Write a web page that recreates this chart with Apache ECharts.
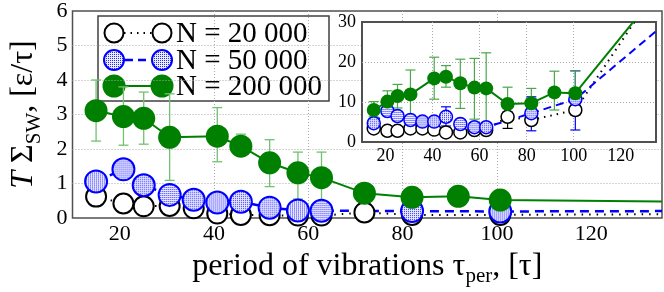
<!DOCTYPE html>
<html>
<head>
<meta charset="utf-8">
<script src="https://cdn.jsdelivr.net/npm/echarts@6/dist/echarts.min.js"></script>
<style>html,body{margin:0;padding:0;background:#fff}#c{width:664px;height:292px}</style>
</head>
<body>
<div id="c"></div>
<script>
// ---------- data ----------
const xTicks = [20, 40, 60, 80, 100, 120];
const yTicksMain = [0, 1, 2, 3, 4, 5, 6];
const yTicksInset = [0, 10, 20, 30];
const legendNames = ['N = 20 000', 'N = 50 000', 'N = 200 000'];

// N = 200 000 (green)
const greenX = [15, 20.8, 25.1, 30.6, 40.7, 45.7, 51.8, 57.8, 62.8, 71.9, 82, 91.8, 100.7];
const greenMain = [3.11, 2.94, 2.89, 2.34, 2.37, 2.08, 1.60, 1.31, 1.17, 0.72, 0.60, 0.63, 0.52];
const greenMainLo = [2.23, 2.11, 2.14, 1.09, 1.63, 1.80, 0.91, 0.55, 0.42, 0.64, 0.52, 0.55, 0.45];
const greenMainHi = [4.00, 3.80, 3.65, 3.60, 3.20, 2.43, 2.27, 1.91, 1.91, 0.80, 0.68, 0.71, 0.60];
const greenMainTail = [135, 0.48];
const greenInset = [8.0, 10.1, 11.5, 11.9, 15.9, 16.3, 14.7, 13.6, 13.4, 9.5, 9.7, 12.4, 12.2];
const greenInsetLo = [6.3, 7.5, 8.5, 6.3, 10.7, 13.7, 8.4, 5.7, 3.8, 6.3, 6.3, 8.0, 6.7];
const greenInsetHi = [10.1, 12.8, 14.4, 18.0, 21.2, 19.1, 20.7, 20.9, 22.3, 13.7, 13.4, 17.7, 17.8];
const greenInsetTail = [135, 37];

// N = 50 000 (blue)
const blueX = [15, 20.8, 25.1, 30.6, 35.7, 40.7, 45.7, 51.8, 57.8, 62.8, 82, 100.7];
const blueMain = [1.06, 1.41, 0.95, 0.67, 0.53, 0.45, 0.47, 0.30, 0.22, 0.21, 0.20, 0.19];
const blueMainTail = [135, 0.20];
const blueInset = [4.7, 7.75, 6.5, 5.5, 5.1, 5.1, 6.3, 4.5, 3.7, 3.7, 7.2, 10.7];
const blueInsetLo = [3.7, 6.7, 5.5, 4.5, 4.1, 4.1, 4.0, 3.5, 2.7, 2.7, 2.8, 3.0];
const blueInsetHi = [5.7, 8.8, 7.5, 6.5, 6.1, 6.1, 8.8, 5.5, 4.7, 4.7, 11.3, 17.8];
const blueInsetTail = [135, 27.7];

// N = 20 000 (black)
const blackX = [15, 20.8, 25.1, 30.6, 35.7, 40.7, 45.7, 51.8, 57.8, 62.8, 71.9, 82, 100.7];
const blackMain = [0.62, 0.42, 0.34, 0.35, 0.28, 0.13, 0.09, 0.08, 0.07, 0.07, 0.16, 0.09, 0.09];
const blackMainTail = [135, 0.11];
const blackInset = [3.4, 2.8, 2.8, 3.4, 3.4, 3.1, 2.4, 2.4, 3.0, 3.0, 6.3, 5.5, 8.0];
const blackInsetLo = [2.6, 2.0, 2.0, 2.6, 2.6, 2.3, 1.6, 1.6, 2.2, 2.2, 3.4, 4.5, 7.0];
const blackInsetHi = [4.2, 3.6, 3.6, 4.2, 4.2, 3.9, 3.2, 3.2, 3.8, 3.8, 7.5, 6.5, 9.0];
const blackInsetTail = [135, 38];

// ---------- helpers ----------
const FONT = 'Liberation Serif';
const GREEN = '#008000', BLUE = '#0000ff', BLACK = '#000000';

const dotCanvas = (() => {
  const c = document.createElement('canvas'); c.width = 2; c.height = 2;
  const g = c.getContext('2d');
  g.fillStyle = '#ececff'; g.fillRect(0, 0, 2, 2);
  g.fillStyle = '#2a2aff'; g.fillRect(0, 0, 1, 1);
  return c;
})();
// symbols are drawn scaled by size/2, so the pattern is pre-scaled back
function dotFill(symbolSize) {
  const s = 2 / symbolSize;
  return { image: dotCanvas, repeat: 'repeat', scaleX: s, scaleY: s };
}

function pts(xs, ys, tail) {
  const d = xs.map((x, i) => [x, ys[i]]);
  if (tail) d.push({ value: tail, symbol: 'none' });
  return d;
}
function errData(xs, lo, hi) { return xs.map((x, i) => [x, lo[i], hi[i]]); }
function errSeries(xi, yi, data, color, cap, w, z) {
  return {
    type: 'custom', xAxisIndex: xi, yAxisIndex: yi, z: z, silent: true,
    encode: { x: 0, y: [1, 2] }, data: data,
    renderItem: function (params, api) {
      const x = api.value(0);
      const a = api.coord([x, api.value(1)]);
      const b = api.coord([x, api.value(2)]);
      const st = { stroke: color, lineWidth: w };
      return { type: 'group', children: [
        { type: 'line', shape: { x1: a[0], y1: a[1], x2: b[0], y2: b[1] }, style: st },
        { type: 'line', shape: { x1: a[0] - cap, y1: a[1], x2: a[0] + cap, y2: a[1] }, style: st },
        { type: 'line', shape: { x1: b[0] - cap, y1: b[1], x2: b[0] + cap, y2: b[1] }, style: st }
      ]};
    }
  };
}
function lineSeries(name, xi, yi, data, o) {
  return {
    name: name, type: 'line', xAxisIndex: xi, yAxisIndex: yi, data: data, z: o.z,
    symbol: 'circle', symbolSize: o.size, showAllSymbol: true, clip: true,
    itemStyle: { color: o.fill, borderColor: o.border, borderWidth: o.bw },
    lineStyle: { color: o.line, width: o.lw, type: o.dash },
    emphasis: { disabled: true }, silent: true
  };
}
const splitDotted = { show: true, showMinLine: false, showMaxLine: false, lineStyle: { type: [1, 2], color: '#a8a8a8', width: 1 } };
function tickLabel(size, margin, custom) {
  const l = { fontFamily: FONT, fontSize: size, color: '#000', margin: margin,
    formatter: '{t|{value}}', rich: { t: { fontFamily: FONT, fontSize: size, color: '#000' } } };
  if (custom) l.customValues = custom;
  return l;
}

const subStyle = { fontFamily: FONT, fontSize: 21, color: '#000', padding: [20, 0, 0, 0] };

// ---------- legend (drawn as graphic) ----------
function legendRow(y, kind) {
  const els = [];
  const x1 = 114, x2 = 162;
  if (kind === 0) {
    els.push({ type: 'line', shape: { x1: x1 + 10, y1: y, x2: x2 - 10, y2: y }, style: { stroke: BLACK, lineWidth: 2, lineDash: [1.5, 5] } });
    [x1, x2].forEach(cx => els.push({ type: 'circle', shape: { cx: cx, cy: y, r: 9.5 }, style: { fill: '#fff', stroke: BLACK, lineWidth: 2 } }));
  } else if (kind === 1) {
    els.push({ type: 'line', shape: { x1: x1 + 11, y1: y, x2: x2 - 11, y2: y }, style: { stroke: BLUE, lineWidth: 2.5, lineDash: [8, 5] } });
    [x1, x2].forEach(cx => els.push({ type: 'circle', shape: { cx: cx, cy: y, r: 10 }, style: { fill: dotFill(2), stroke: BLUE, lineWidth: 2 } }));
  } else {
    els.push({ type: 'line', shape: { x1: x1, y1: y, x2: x2, y2: y }, style: { stroke: GREEN, lineWidth: 2 } });
    [x1, x2].forEach(cx => els.push({ type: 'circle', shape: { cx: cx, cy: y, r: 11.5 }, style: { fill: GREEN } }));
  }
  els.push({ type: 'text', x: 176, y: y + 1, style: { text: legendNames[kind], font: "29px 'Liberation Serif', serif", fill: '#000', textVerticalAlign: 'middle', verticalAlign: 'middle' } });
  return els;
}

const option = {
  animation: false,
  backgroundColor: '#fff',
  textStyle: { fontFamily: FONT },
  grid: [
    { left: 62, top: 10, width: 600, height: 210, show: true, backgroundColor: '#fff', borderColor: '#505050', borderWidth: 1.5, z: 0 },
    { left: 362, top: 22, width: 294, height: 120, show: true, backgroundColor: '#fff', borderColor: '#505050', borderWidth: 2, z: 3 }
  ],
  xAxis: [
    {
      gridIndex: 0, type: 'value', min: 10, max: 135,
      axisLine: { show: false }, axisTick: { show: false, customValues: xTicks },
      axisLabel: tickLabel(22, 5, xTicks),
      splitLine: splitDotted,
      name: 'period of vibrations τ{sub|per}, [τ]', nameLocation: 'middle', nameGap: 28,
      nameTextStyle: { fontFamily: FONT, fontSize: 32, color: '#000', rich: { sub: subStyle } }
    },
    {
      gridIndex: 1, type: 'value', min: 10, max: 135, z: 3,
      axisLine: { show: false }, axisTick: { show: false, customValues: xTicks },
      axisLabel: tickLabel(18, 5, xTicks),
      splitLine: splitDotted
    }
  ],
  yAxis: [
    {
      gridIndex: 0, type: 'value', min: 0, max: 6, interval: 1,
      axisLine: { show: false }, axisTick: { show: false },
      axisLabel: tickLabel(22, 5),
      splitLine: splitDotted,
      name: '{it|T} Σ{sub|SW}, [ε/τ]', nameLocation: 'middle', nameRotate: 90, nameGap: 28,
      nameTextStyle: { fontFamily: FONT, fontSize: 32, color: '#000', rich: { it: { fontFamily: FONT, fontSize: 32, fontStyle: 'italic', color: '#000' }, sub: subStyle } }
    },
    {
      gridIndex: 1, type: 'value', min: 0, max: 30, interval: 10, z: 3,
      axisLine: { show: false }, axisTick: { show: false },
      axisLabel: tickLabel(18, 6),
      splitLine: splitDotted
    }
  ],
  series: [
    // main plot
    lineSeries(legendNames[0], 0, 0, pts(blackX, blackMain, blackMainTail), { z: 2, size: 20, fill: '#fff', border: BLACK, bw: 2, line: BLACK, lw: 2, dash: [1.5, 6] }),
    lineSeries(legendNames[1], 0, 0, pts(blueX, blueMain, blueMainTail), { z: 2, size: 22, fill: dotFill(22), border: BLUE, bw: 2, line: BLUE, lw: 2.5, dash: [9, 6] }),
    errSeries(0, 0, errData(greenX, greenMainLo, greenMainHi), '#72c072', 5, 1.3, 2),
    lineSeries(legendNames[2], 0, 0, pts(greenX, greenMain, greenMainTail), { z: 2, size: 23, fill: GREEN, border: GREEN, bw: 0, line: GREEN, lw: 2, dash: 'solid' }),
    // inset
    errSeries(1, 1, errData(blackX, blackInsetLo, blackInsetHi), BLACK, 5, 1.2, 5),
    lineSeries('i0', 1, 1, pts(blackX, blackInset, blackInsetTail), { z: 5, size: 13, fill: '#fff', border: BLACK, bw: 1.5, line: BLACK, lw: 2, dash: [1.5, 5] }),
    errSeries(1, 1, errData(blueX, blueInsetLo, blueInsetHi), BLUE, 5, 1.2, 5),
    lineSeries('i1', 1, 1, pts(blueX, blueInset, blueInsetTail), { z: 5, size: 13, fill: dotFill(13), border: BLUE, bw: 1.5, line: BLUE, lw: 2, dash: [8, 5] }),
    errSeries(1, 1, errData(greenX, greenInsetLo, greenInsetHi), '#4aa84a', 5, 1.2, 5),
    lineSeries('i2', 1, 1, pts(greenX, greenInset, greenInsetTail), { z: 5, size: 14, fill: GREEN, border: GREEN, bw: 0, line: GREEN, lw: 2, dash: 'solid' })
  ],
  graphic: [{
    type: 'group', z: 100, silent: true,
    children: [
      { type: 'rect', shape: { x: 98, y: 16, width: 231, height: 85 }, style: { fill: '#fff', stroke: '#404040', lineWidth: 1.5 } }
    ].concat(legendRow(33, 0), legendRow(60, 1), legendRow(86, 2))
  }]
};

const chart = echarts.init(document.getElementById('c'), null, { renderer: 'canvas' });
chart.setOption(option);
</script>
</body>
</html>
